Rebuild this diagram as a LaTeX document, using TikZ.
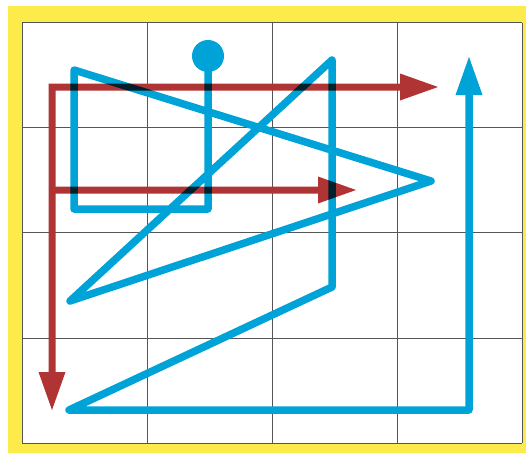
\documentclass[tikz,border=0pt]{standalone}
\usetikzlibrary{arrows.meta}
\definecolor{bgyellow}{HTML}{FDEB4C}
\definecolor{pathblue}{HTML}{00A3D7}
\definecolor{pathred}{HTML}{B03434}
\definecolor{gridgrey}{HTML}{555555}
\tikzset{
  gridline/.style={draw=gridgrey, line width=0.9pt},
  bluepath/.style={draw=pathblue, line width=7.5pt, line join=round, line cap=round},
  redpath/.style={draw=pathred, line width=7pt, line join=miter},
  bigtip/.tip={Triangle[length=38pt, width=27pt, line width=0pt]},
}
\begin{document}
\begin{tikzpicture}[x=1pt, y=-1pt]
\useasboundingbox (0,0) rectangle (526,453);
\fill[white] (0,0) rectangle (526,453);
\fill[bgyellow] (8,6) rectangle (526,453);
\fill[white] (22,22.7) rectangle (522,443);
% grid
\foreach \x in {22,147,272,397.5,522} \draw[gridline] (\x,22.7) -- (\x,443);
\foreach \y in {22.7,127.3,232.5,338,443} \draw[gridline] (22,\y) -- (522,\y);
% named points
\coordinate (b0) at (208,56);
\coordinate (b1) at (208,209);
\coordinate (b2) at (74,209);
\coordinate (b3) at (74,70);
\coordinate (b4) at (431,181);
\coordinate (b5) at (70,301);
\coordinate (b6) at (332,60);
\coordinate (b7) at (332,287);
\coordinate (b8) at (69,410);
\coordinate (b9) at (469,410);
\coordinate (b10) at (469,57);
\coordinate (r0) at (52,87);
\coordinate (r1) at (438,87);
\coordinate (r2) at (52,410);
\coordinate (r3) at (52,190);
\coordinate (r4) at (356,190);
\begin{scope}[blend group=multiply]
  \begin{scope}[transparency group]
    \begin{scope}[blend mode=normal]
      \draw[redpath, bigtip-bigtip] (r1) -- (r0) -- (r2);
      \draw[redpath, -bigtip] (r3) -- (r4);
    \end{scope}
  \end{scope}
  \begin{scope}[transparency group]
    \begin{scope}[blend mode=normal]
      \fill[pathblue] (b0) circle (16);
      \draw[bluepath, -bigtip] (b0) -- (b1) -- (b2) -- (b3) -- (b4) -- (b5) -- (b6) -- (b7) -- (b8) -- (b9) -- (b10);
    \end{scope}
  \end{scope}
\end{scope}
\end{tikzpicture}
\end{document}
